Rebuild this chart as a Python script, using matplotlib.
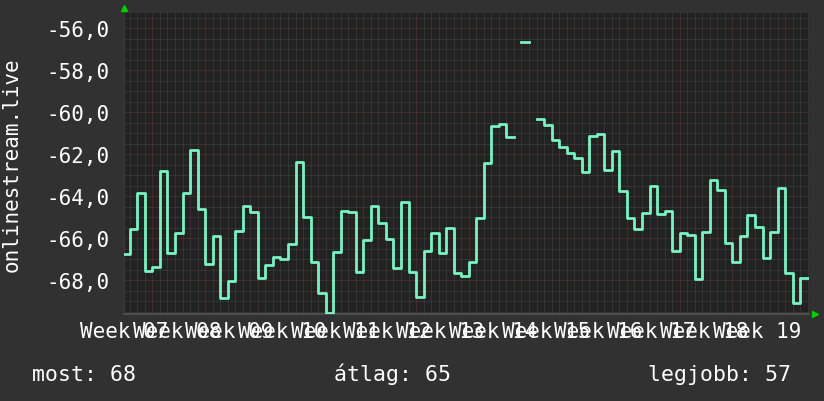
import numpy as np
import matplotlib
matplotlib.use("Agg")
import matplotlib.pyplot as plt

# daily values (nan = no data)
values = [
    -66.75, -65.57, -63.83, -67.56, -67.35, -62.79, -66.70, -65.75, -63.83, -61.78,
    -64.59, -67.22, -65.87, -68.86, -68.03, -65.65, -64.46, -64.75, -67.89, -67.25,
    -66.87, -66.97, -66.25, -62.35, -64.97, -67.13, -68.59, -69.55, -66.63, -64.68,
    -64.75, -67.59, -66.06, -64.44, -65.25, -66.02, -67.40, -64.25, -67.59, -68.78,
    -66.59, -65.75, -66.70, -65.49, -67.65, -67.81, -67.11, -65.02, -62.40, -60.63,
    -60.54, -61.16, np.nan, -56.64, np.nan, -60.30, -60.62, -61.30, -61.63, -61.92,
    -62.16, -62.84, -61.11, -61.02, -62.75, -61.83, -63.76, -65.02, -65.54, -64.79,
    -63.51, -64.83, -64.68, -66.59, -65.75, -65.86, -67.94, -65.70, -63.21, -63.71,
    -66.21, -67.11, -65.87, -64.89, -65.44, -66.92, -65.70, -63.60, -67.63, -69.10,
    -67.89,
]
week_labels = ["Week %02d" % w for w in range(7, 20)]
y_ticks = [-68, -66, -64, -62, -60, -58, -56]
legend_texts = ["most: 68", "átlag: 65", "legjobb: 57"]

BG = "#313131"
PLOT_BG = "#222222"
LINE = "#7af2c2"
FONT = "DejaVu Sans Mono"

fig = plt.figure(figsize=(8.24, 4.02), dpi=100, facecolor=BG)
ax = fig.add_axes([124 / 824, 87 / 402, 685 / 824, 301 / 402])
ax.set_facecolor(PLOT_BG)

x = np.arange(len(values)) - 0.23
xs = np.append(x, x[-1] + 1)
ys = np.append(values, values[-1])
ax.step(xs, ys, where="post", color=LINE, lw=2.0, zorder=3)

ax.set_xlim(0, 90.94)
ax.set_ylim(-69.6, -55.27)

# grid, rrdtool style
dot = (0, (1, 1))
for d in np.arange(0.77, 91, 1):
    major = abs(((d - 3.77) / 7) - round((d - 3.77) / 7)) < 1e-6
    ax.axvline(d, color="#603636" if major else "#454545", lw=0.72, ls=dot, zorder=1)
for v in np.arange(-69.5, -55.2, 0.5):
    major = v in y_ticks
    ax.axhline(v, color="#603636" if major else "#454545", lw=0.72, ls=dot, zorder=1)

ax.set_yticks(y_ticks)
ax.set_yticklabels([("%.1f" % t).replace(".", ",") for t in y_ticks])
ax.set_xticks(np.arange(0, 7 * len(week_labels), 7))
ax.set_xticklabels(week_labels)
ax.tick_params(axis="y", length=0, pad=10.5, labelsize=15, labelcolor="white")
ax.tick_params(axis="x", length=0, pad=5, labelsize=15, labelcolor="white")
for lab in ax.get_xticklabels() + ax.get_yticklabels():
    lab.set_family(FONT)

for s in ["top", "right"]:
    ax.spines[s].set_visible(False)
ax.spines["left"].set_color("#3a3a3a")
ax.spines["bottom"].set_color("#555555")
ax.spines["bottom"].set_linewidth(1.2)

# axis arrows
ax.plot([0], [1.016], marker="^", color="#00d000", ms=5, transform=ax.transAxes, clip_on=False)
ax.plot([1.009], [0], marker=">", color="#00d000", ms=5, transform=ax.transAxes, clip_on=False)

fig.text(12 / 824, (402 - 164.5) / 402, "onlinestream.live", rotation=90, color="white",
         fontsize=15, family=FONT, ha="center", va="center")

for txt, px in zip(legend_texts, [32, 334, 648]):
    fig.text(px / 824, 21 / 402, txt, color="white", fontsize=15.5, family=FONT,
             ha="left", va="baseline")

fig.savefig("out.png", dpi=100, facecolor=BG)
